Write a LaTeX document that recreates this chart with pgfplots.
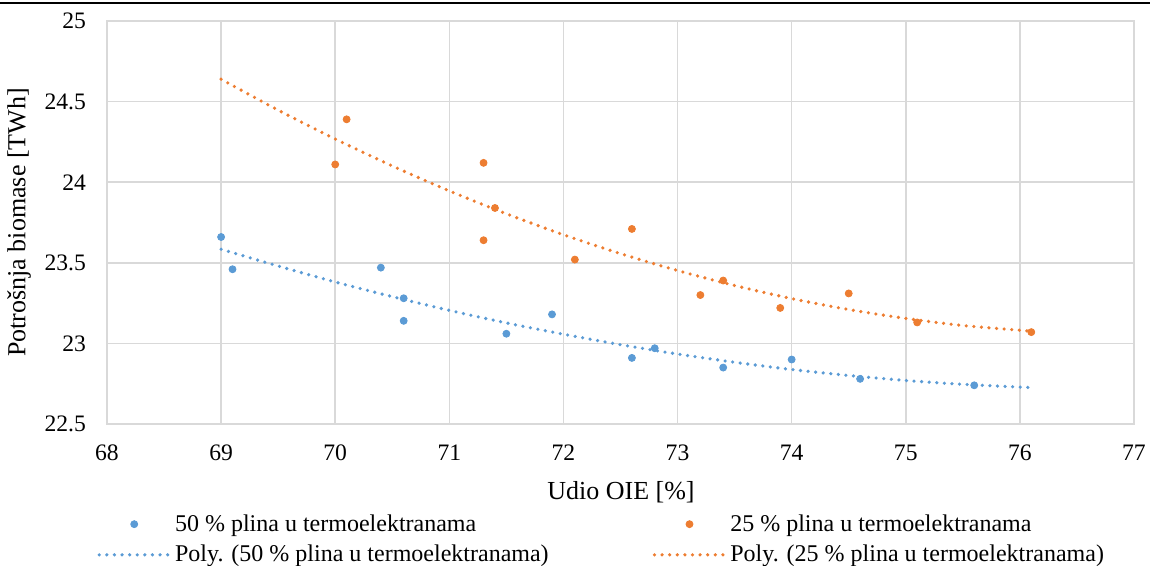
\documentclass[border=0pt]{standalone}
\usepackage{fontspec}
\setmainfont{Liberation Serif}
\usepackage{pgfplots}
\pgfplotsset{compat=1.18}

\definecolor{xlblue}{RGB}{91,155,213}
\definecolor{xlorange}{RGB}{237,125,49}
\definecolor{gridgray}{RGB}{217,217,217}

% scatter points
\pgfplotstableread{
x y
69.0 23.66
69.1 23.46
70.4 23.47
70.6 23.28
70.6 23.14
71.5 23.06
71.9 23.18
72.6 22.91
72.8 22.97
73.4 22.85
74.0 22.90
74.6 22.78
75.6 22.74
}\plinafifty
\pgfplotstableread{
x y
70.0 24.11
70.1 24.39
71.3 24.12
71.3 23.64
71.4 23.84
72.1 23.52
72.6 23.71
73.2 23.30
73.4 23.39
73.9 23.22
74.5 23.31
75.1 23.13
76.1 23.07
}\plinaquarter
% polynomial trend lines (order 2), tabulated
\pgfplotstableread{
x y
69   23.584
69.5 23.480
70   23.381
70.5 23.290
71   23.205
71.5 23.127
72   23.057
72.5 22.992
73   22.934
73.5 22.883
74   22.838
74.5 22.801
75   22.770
75.5 22.746
76.1 22.726
}\polyfifty
\pgfplotstableread{
x y
69   24.639
69.5 24.447
70   24.268
70.5 24.101
71   23.946
71.5 23.804
72   23.674
72.5 23.557
73   23.452
73.5 23.359
74   23.278
74.5 23.210
75   23.155
75.5 23.111
76.1 23.076
}\polyquarter

\begin{document}
\begin{tikzpicture}
\begin{axis}[
    name=ax, at={(0,0)}, anchor=south west,
    scale only axis,
    width=513.5pt, height=201.5pt,
    xmin=68, xmax=77, ymin=22.5, ymax=25,
    xtick={68,...,77},
    ytick={22.5,23,...,25},
    yticklabel style={/pgf/number format/fixed, /pgf/number format/precision=1, xshift=-7pt},
    xticklabel style={yshift=-7pt},
    /pgf/number format/assume math mode=true,
    tick label style={font=\fontsize{11.8}{14}\selectfont},
    major tick length=0pt,
    grid=major,
    major grid style={gridgray, line width=0.75pt},
    axis line style={gridgray, line width=0.75pt},
    xlabel={Udio OIE [\%]},
    ylabel={Potrošnja biomase [TWh]},
    label style={font=\fontsize{13}{15}\selectfont},
    xlabel style={at={(axis description cs:0.5005,-0.1687)}, anchor=center},
    ylabel style={at={(axis description cs:-0.0857,0.5)}, anchor=center},
    legend columns=2,
    legend style={draw=none, fill=none, inner sep=0pt,
        at={(axis description cs:-0.0097,-0.2866)}, anchor=west,
        font=\fontsize{12}{14}\selectfont,
        cells={anchor=west}, row sep=1.5pt,
        /tikz/every even column/.append style={column sep=50pt}},
    legend image code/.code={\draw[mark repeat=2, mark phase=2, #1]
        plot coordinates {(0pt,0pt) (17.5pt,0pt) (35pt,0pt)};},
]
\addplot[only marks, mark=*, mark size=1.75pt, color=xlblue] table {\plinafifty};
\addlegendentry{50 \% plina u termoelektranama}
\addplot[only marks, mark=*, mark size=1.75pt, color=xlorange] table {\plinaquarter};
\addlegendentry{25 \% plina u termoelektranama}
\addplot[smooth, no marks, color=xlblue, line width=1.8pt, line cap=round,
    dash pattern=on 0pt off 3.8pt] table {\polyfifty};
\addlegendentry{Poly. (50 \% plina u termoelektranama)}
\addplot[smooth, no marks, color=xlorange, line width=1.8pt, line cap=round,
    dash pattern=on 0pt off 3.8pt] table {\polyquarter};
\addlegendentry{Poly. (25 \% plina u termoelektranama)}
\end{axis}
% rule along the top edge of the page, as in the reference crop
\draw[line width=0.7pt] (-53.5pt,210.5pt) -- (521.5pt,210.5pt);
\pgfresetboundingbox
\path[use as bounding box] (-53.5pt,-71pt) rectangle (521.5pt,212pt);
\end{tikzpicture}
\end{document}
